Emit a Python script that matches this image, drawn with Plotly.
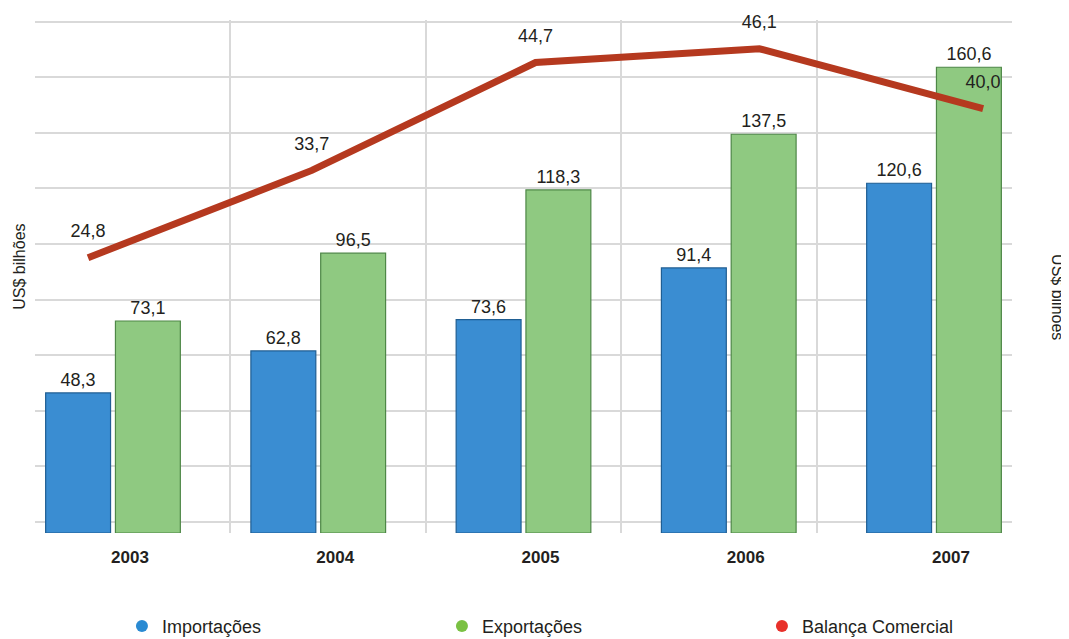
import plotly.graph_objects as go

years = ["2003", "2004", "2005", "2006", "2007"]
importacoes = [48.3, 62.8, 73.6, 91.4, 120.6]
exportacoes = [73.1, 96.5, 118.3, 137.5, 160.6]
balanca = [24.8, 33.7, 44.7, 46.1, 40.0]

legend_names = ["Importações", "Exportações", "Balança Comercial"]
legend_colors = ["#2A8AD2", "#7AC143", "#E8302A"]

FONT = "Liberation Sans, Arial, sans-serif"
TXT = "#231F20"

fig = go.Figure()

fig.add_trace(go.Bar(
    x=years, y=importacoes, name="Importações", showlegend=False,
    marker=dict(color="#3A8DD2", line=dict(color="#1F5E93", width=1.2)),
    texttemplate="%{y:.1f}", textposition="outside", cliponaxis=False,
    textfont=dict(size=18, color=TXT, family=FONT),
    xaxis="x", yaxis="y",
))
fig.add_trace(go.Bar(
    x=years, y=exportacoes, name="Exportações", showlegend=False,
    marker=dict(color="#8FC981", line=dict(color="#4E8747", width=1.2)),
    texttemplate="%{y:.1f}", textposition="outside", cliponaxis=False,
    textfont=dict(size=18, color=TXT, family=FONT),
    xaxis="x", yaxis="y",
))
fig.add_trace(go.Scatter(
    x=years, y=balanca, name="Balança Comercial", showlegend=False,
    mode="lines+markers+text", line=dict(color="#B5391F", width=7),
    marker=dict(size=24, color="rgba(0,0,0,0)"),
    texttemplate="%{y:.1f}", textposition="top center", cliponaxis=False,
    textfont=dict(size=18, color=TXT, family=FONT),
    xaxis="x2", yaxis="y2",
))

# legend-only entries (round markers)
for nm, col in zip(legend_names, legend_colors):
    fig.add_trace(go.Scatter(
        x=[None], y=[None], mode="markers", name=nm,
        marker=dict(symbol="circle", size=16, color=col),
        xaxis="x3", yaxis="y",
    ))

fig.update_layout(
    width=1061, height=631,
    margin=dict(l=27, r=57, t=12, b=106, autoexpand=False),
    paper_bgcolor="white", plot_bgcolor="white",
    separators=",.",
    barmode="group", bargap=0.32, bargroupgap=0.07,
    font=dict(family=FONT, color=TXT),
    xaxis=dict(
        type="category", range=[-0.38, 4.38], showgrid=False, zeroline=False,
        showline=False, ticks="", tickfont=dict(size=17, color=TXT, family=FONT),
        tickprefix="<b>", ticksuffix="</b>", ticklabelstandoff=12, ticklabelshift=17,
        automargin=False,
    ),
    xaxis2=dict(
        type="category", overlaying="x", range=[-0.237, 4.129],
        showgrid=False, showticklabels=False, ticks="", zeroline=False, showline=False,
    ),
    xaxis3=dict(
        overlaying="x", range=[0, 5], tick0=0, dtick=1, showgrid=True,
        gridcolor="#D9D9D9", gridwidth=1.5, showticklabels=False, ticks="",
        zeroline=False, showline=False,
    ),
    yaxis=dict(
        range=[0, 176.9], tick0=3.8, dtick=19.167, showgrid=True,
        gridcolor="#D9D9D9", gridwidth=1.5, showticklabels=False, ticks="",
        zeroline=False, showline=False, automargin=False,
    ),
    yaxis2=dict(
        overlaying="y", side="right", range=[-3.26, 49.03],
        showgrid=False, showticklabels=False, ticks="", zeroline=False, showline=False,
    ),
    legend=dict(
        orientation="h", x=0.089, xanchor="left", y=-0.182, yanchor="middle",
        entrywidth=275, entrywidthmode="pixels",
        font=dict(size=18, color=TXT, family=FONT), itemsizing="constant",
    ),
    annotations=[
        dict(text="US$ bilhões", textangle=-90, xref="paper", yref="paper",
             x=-0.0154, y=0.519, xanchor="center", yanchor="middle", showarrow=False,
             font=dict(size=16, color=TXT, family=FONT)),
        dict(text="US$ bilhões", textangle=90, xref="paper", yref="paper",
             x=1.047, y=0.46, xanchor="center", yanchor="middle", showarrow=False,
             font=dict(size=16, color=TXT, family=FONT)),
    ],
)

fig.write_html("out.html")
